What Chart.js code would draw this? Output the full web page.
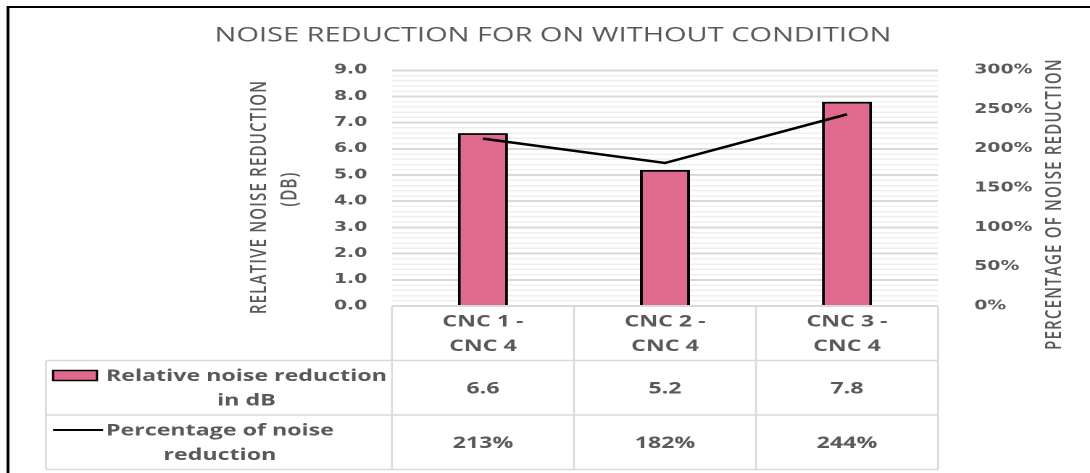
<!DOCTYPE html>
<html>
<head>
<meta charset="utf-8">
<script src="https://cdn.jsdelivr.net/npm/chart.js@4"></script>
<style>
  html, body { margin: 0; padding: 0; background: #fff; overflow: hidden; }
  /* the chart is laid out narrow and widened to the page */
  #wrap { width: 752px; height: 473px; transform: scaleX(1.4495); transform-origin: 0 0; }
</style>
</head>
<body>
<div id="wrap"><canvas id="chart"></canvas></div>
<script>
const categories = [['CNC 1 -', 'CNC 4'], ['CNC 2 -', 'CNC 4'], ['CNC 3 -', 'CNC 4']];
const reductionDb = [6.6, 5.2, 7.8];
const reductionPct = [213, 182, 244];
const seriesLabels = [['Relative noise reduction', 'in dB'], ['Percentage of noise', 'reduction']];
const chartTitle = 'NOISE REDUCTION FOR ON WITHOUT CONDITION';
const leftTitle = ['RELATIVE NOISE REDUCTION', '(DB)'];
const rightTitle = 'PERCENTAGE OF NOISE REDUCTION';

const GREY = '#595959';
const PINK = '#e0698e';
const TABLE_LINE = '#d9d9d9';
const BOLD = 'bold 16px "Open Sans", sans-serif';
const ROW_H = 54.5;
const LINE_H = 24.5;
const CAP = 11.4;
const TABLE_LEFT = 31.7;

const isMajor = v => Math.abs(v - Math.round(v)) < 1e-6;

function rotatedText(ctx, text, x, y) {
  ctx.save();
  ctx.translate(x, y);
  ctx.rotate(-Math.PI / 2);
  ctx.fillText(text, 0, 0);
  ctx.restore();
}

// centred multi-line text, baselines placed around the cap-height middle
function cellText(ctx, lines, cx, cy) {
  lines.forEach((line, i) => {
    const base = cy + (i - (lines.length - 1) / 2) * LINE_H + CAP / 2;
    ctx.fillText(line, cx, base);
  });
}

const decorations = {
  id: 'decorations',
  afterDraw(chart) {
    const ctx = chart.ctx;
    const area = chart.chartArea;
    const xs = chart.scales.x;
    ctx.save();

    // outer frame
    ctx.strokeStyle = '#000';
    ctx.lineWidth = 2;
    ctx.strokeRect(5.5, 7, 900, 600);

    // chart title
    ctx.fillStyle = GREY;
    ctx.font = '20px "Open Sans", sans-serif';
    ctx.textAlign = 'center';
    ctx.textBaseline = 'alphabetic';
    ctx.fillText(chartTitle, 381.5, 41.7);

    // axis titles
    ctx.font = '600 15px "Open Sans", sans-serif';
    ctx.letterSpacing = '1.2px';
    ctx.textBaseline = 'middle';
    rotatedText(ctx, leftTitle[0], 179.4, 197);
    rotatedText(ctx, leftTitle[1], 200.1, 189);
    rotatedText(ctx, rightTitle, 727.8, 204);
    ctx.letterSpacing = '0px';

    // data table grid
    const rows = [0, 1, 2, 3].map(i => area.bottom + i * ROW_H);
    const half = (area.right - area.left) / categories.length / 2;
    ctx.strokeStyle = TABLE_LINE;
    ctx.lineWidth = 1.5;
    ctx.beginPath();
    for (let i = 1; i < rows.length; i++) {
      ctx.moveTo(TABLE_LEFT, rows[i]);
      ctx.lineTo(area.right, rows[i]);
    }
    ctx.stroke();
    ctx.lineWidth = 1.3;
    ctx.beginPath();
    ctx.moveTo(TABLE_LEFT, rows[1]);
    ctx.lineTo(TABLE_LEFT, rows[3]);
    const edges = [area.left].concat(categories.map((c, i) => xs.getPixelForValue(i) + half));
    edges.forEach(e => {
      ctx.moveTo(e, rows[0]);
      ctx.lineTo(e, rows[3]);
    });
    ctx.stroke();

    // table text
    ctx.fillStyle = GREY;
    ctx.font = BOLD;
    ctx.textAlign = 'center';
    ctx.textBaseline = 'alphabetic';
    categories.forEach((cat, i) => {
      const cx = xs.getPixelForValue(i);
      cellText(ctx, cat, cx, rows[0] + ROW_H / 2);
      cellText(ctx, [reductionDb[i].toFixed(1)], cx, rows[1] + ROW_H / 2);
      cellText(ctx, [reductionPct[i] + '%'], cx, rows[2] + ROW_H / 2);
    });

    // series names with their keys
    seriesLabels.forEach((lines, i) => {
      const cy = rows[i + 1] + ROW_H / 2;
      const blockW = Math.max(...lines.map(l => ctx.measureText(l).width));
      ctx.fillStyle = GREY;
      cellText(ctx, lines, 73.1 + blockW / 2, cy);
      const keyY = cy - LINE_H / 2;
      if (i === 0) {
        ctx.fillStyle = PINK;
        ctx.strokeStyle = '#000';
        ctx.lineWidth = 1.5;
        ctx.fillRect(36.6, keyY - 5, 30.3, 10);
        ctx.strokeRect(36.6, keyY - 5, 30.3, 10);
      } else {
        ctx.strokeStyle = '#000';
        ctx.lineWidth = 2;
        ctx.beginPath();
        ctx.moveTo(36.6, keyY);
        ctx.lineTo(71.1, keyY);
        ctx.stroke();
      }
    });

    ctx.restore();
  }
};

const tickFont = { family: '"DejaVu Sans", sans-serif', weight: 'bold', size: 13 };

new Chart(document.getElementById('chart'), {
  data: {
    labels: categories,
    datasets: [
      {
        type: 'bar',
        label: seriesLabels[0].join(' '),
        data: reductionDb,
        yAxisID: 'y',
        backgroundColor: PINK,
        borderColor: '#000',
        borderWidth: 2,
        barPercentage: 0.275,
        categoryPercentage: 1,
        order: 2
      },
      {
        type: 'line',
        label: seriesLabels[1].join(' '),
        data: reductionPct,
        yAxisID: 'y1',
        borderColor: '#000',
        borderWidth: 2.5,
        pointRadius: 0,
        tension: 0,
        order: 1
      }
    ]
  },
  options: {
    responsive: true,
    maintainAspectRatio: false,
    animation: false,
    devicePixelRatio: 2,
    layout: { padding: { top: 70.3, bottom: 167, left: 0, right: 0 } },
    plugins: {
      legend: { display: false },
      title: { display: false },
      tooltip: { enabled: false }
    },
    scales: {
      x: {
        offset: true,
        grid: { display: false },
        border: { display: false },
        ticks: { display: false },
        afterFit: s => { s.height = 0; }
      },
      y: {
        position: 'left',
        min: 0,
        max: 9,
        border: { display: false },
        grid: {
          drawTicks: false,
          color: c => isMajor(c.tick.value) ? '#d9d9d9' : '#efefef',
          lineWidth: c => isMajor(c.tick.value) ? 2 : 1.5
        },
        ticks: {
          stepSize: 0.2,
          autoSkip: false,
          padding: 17,
          color: GREY,
          font: tickFont,
          callback: v => isMajor(v) ? v.toFixed(1) : ''
        },
        afterFit: s => { s.width = 270.4; }
      },
      y1: {
        position: 'right',
        min: 0,
        max: 300,
        border: { display: false },
        grid: { display: false },
        ticks: {
          stepSize: 50,
          padding: 17,
          color: GREY,
          font: tickFont,
          callback: v => v + '%'
        },
        afterFit: s => { s.width = 752 - 647.1; }
      }
    }
  },
  plugins: [decorations]
});
</script>
</body>
</html>
